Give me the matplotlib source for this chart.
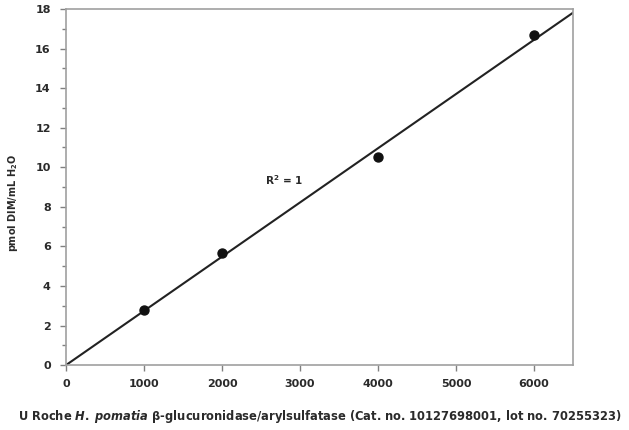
import numpy as np
import matplotlib
matplotlib.use("Agg")
import matplotlib.pyplot as plt
from matplotlib.ticker import MultipleLocator

plt.rcParams['font.family'] = ['DejaVu Sans']
plt.rcParams['mathtext.fontset'] = 'custom'
plt.rcParams['mathtext.rm'] = 'DejaVu Sans:bold'
plt.rcParams['mathtext.it'] = 'DejaVu Sans:bold:italic'
plt.rcParams['mathtext.bf'] = 'DejaVu Sans:bold'

units = np.array([1000, 2000, 4000, 6000])
dim = np.array([2.8, 5.67, 10.5, 16.68])

slope = np.sum(units * dim) / np.sum(units ** 2)
xfit = np.array([0, 6500])
yfit = slope * xfit

TXT = '#2a2a2a'

fig = plt.figure(figsize=(6.29, 4.30), dpi=100)
ax = fig.add_axes([0.105, 0.151, 0.806, 0.828])

ax.plot(xfit, yfit, color='#222222', lw=1.5, zorder=2)
ax.scatter(units, dim, s=42, color='#111111', zorder=3)

ax.set_xlim(0, 6500)
ax.set_ylim(0, 18)
ax.xaxis.set_major_locator(MultipleLocator(1000))
ax.yaxis.set_major_locator(MultipleLocator(2))
ax.yaxis.set_minor_locator(MultipleLocator(1))

for s in ax.spines.values():
    s.set_color('#a0a0a0')
    s.set_linewidth(1.2)
ax.tick_params(axis='both', which='both', direction='out', colors='#808080',
               labelcolor=TXT, labelsize=8, width=1)
ax.tick_params(which='major', length=4)
ax.tick_params(which='minor', length=3)
ax.tick_params(axis='x', pad=6)
ax.tick_params(axis='y', pad=7)
for lab in ax.get_xticklabels() + ax.get_yticklabels():
    lab.set_fontweight('bold')

ax.text(2545, 9.1, r'R$^2$ = 1', fontsize=7.5, fontweight='bold', color=TXT)

ax.set_ylabel(r'pmol DIM/mL H$_2$O', fontsize=7, fontweight='bold', color=TXT)
ax.yaxis.set_label_coords(-0.09, 0.455)
ax.set_xlabel(r'U Roche $H.\;pomatia$ β-glucuronidase/arylsulfatase (Cat. no. 10127698001, lot no. 70255323)',
              fontsize=8.3, fontweight='bold', color=TXT, labelpad=14)

fig.savefig('out.png', dpi=100)
